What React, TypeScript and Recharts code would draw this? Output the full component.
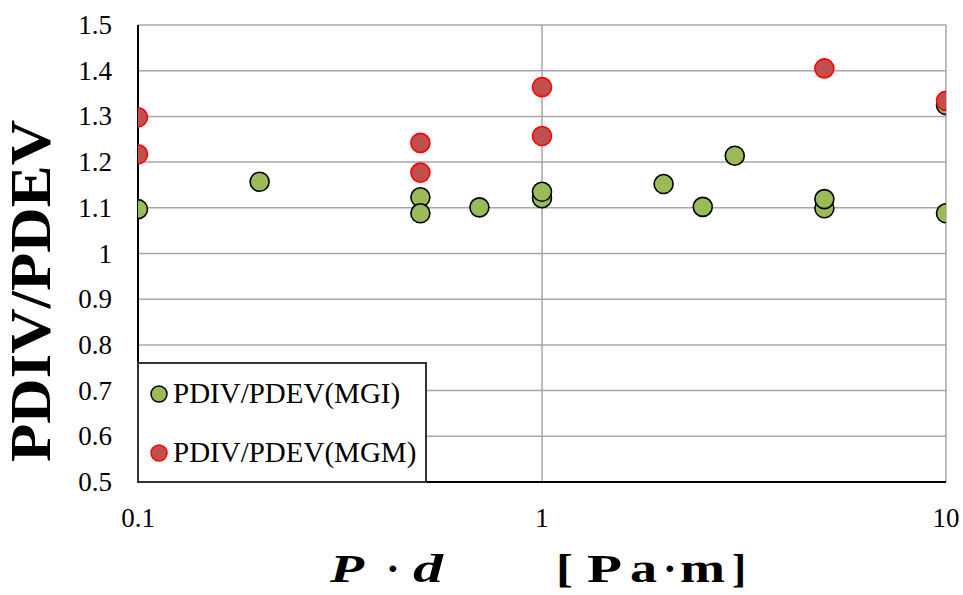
import { ScatterChart, Scatter, XAxis, YAxis, CartesianGrid, Legend } from 'recharts';

// P·d values [Pa·m] and PDIV/PDEV ratios
const mgiPd = [0.1, 0.2, 0.5, 0.5, 0.7, 1, 1, 2, 2.5, 3, 5, 5, 10, 10];
const mgiRatio = [1.097, 1.157, 1.123, 1.088, 1.101, 1.121, 1.135, 1.152, 1.102, 1.214, 1.099, 1.119, 1.088, 1.325];
const mgmPd = [0.1, 0.1, 0.5, 0.5, 1, 1, 5, 10];
const mgmRatio = [1.298, 1.217, 1.242, 1.177, 1.364, 1.257, 1.405, 1.334];

const xTicks = [0.1, 1, 10];
const xMinorTicks = [0.2, 0.3, 0.4, 0.5, 0.6, 0.7, 0.8, 0.9, 2, 3, 4, 5, 6, 7, 8, 9];
const yTicks = [0.5, 0.6, 0.7, 0.8, 0.9, 1, 1.1, 1.2, 1.3, 1.4, 1.5];
const yMinorTicks = Array.from({ length: 51 }, (_, i) => Math.round((0.5 + i * 0.02) * 100) / 100);

const mgiData = mgiPd.map((pd, i) => ({ pd, ratio: mgiRatio[i] }));
const mgmData = mgmPd.map((pd, i) => ({ pd, ratio: mgmRatio[i] }));

const FONT = '"Liberation Serif", "Times New Roman", serif';

const series = [
  { name: 'PDIV/PDEV(MGI)', fill: '#9BBB59', stroke: '#000000' },
  { name: 'PDIV/PDEV(MGM)', fill: '#C0504D', stroke: '#FF0000' },
];

const dot = (fill: string, stroke: string) => (props: any) => (
  <circle cx={props.cx} cy={props.cy} r={9.5} fill={fill} stroke={stroke} strokeWidth={1.6} />
);

const XTick = (props: any) => (
  <text x={props.x} y={props.y + 35} textAnchor="middle" fontFamily={FONT} fontSize={27} fill="#000">
    {String(props.payload.value)}
  </text>
);

const YTick = (props: any) => (
  <text x={props.x} y={props.y + 9} textAnchor="end" fontFamily={FONT} fontSize={27} fill="#000">
    {String(props.payload.value)}
  </text>
);

function LegendBox() {
  return (
    <div
      style={{
        width: 290,
        height: 121,
        boxSizing: 'border-box',
        border: '2px solid #333',
        background: '#fff',
        fontFamily: FONT,
        fontSize: 29,
        color: '#000',
      }}
    >
      {series.map((s) => (
        <div key={s.name} style={{ height: 59, display: 'flex', alignItems: 'center', paddingLeft: 11 }}>
          <svg width={18} height={18} style={{ marginRight: 5 }}>
            <circle cx={9} cy={9} r={8} fill={s.fill} stroke={s.stroke} strokeWidth={1.5} />
          </svg>
          <span>{s.name}</span>
        </div>
      ))}
    </div>
  );
}

const yTitle = () => (
  <text
    x={50}
    y={291}
    transform="rotate(-90, 50, 291)"
    textAnchor="middle"
    fontFamily={FONT}
    fontWeight="bold"
    fontSize={56}
    fill="#000"
    textLength={342}
    lengthAdjust="spacingAndGlyphs"
  >
    PDIV/PDEV
  </text>
);

const xTitle = () => (
  <text y={582} fontFamily={FONT} fontWeight="bold" fontSize={41} fill="#000">
    <tspan x={330} fontStyle="italic" textLength={34} lengthAdjust="spacingAndGlyphs">P</tspan>
    <tspan x={386}>·</tspan>
    <tspan x={413} fontStyle="italic" textLength={30} lengthAdjust="spacingAndGlyphs">d</tspan>
    <tspan x={556} textLength={17} lengthAdjust="spacingAndGlyphs">[</tspan>
    <tspan x={587} textLength={35} lengthAdjust="spacingAndGlyphs">P</tspan>
    <tspan x={630} textLength={27} lengthAdjust="spacingAndGlyphs">a</tspan>
    <tspan x={663}>·</tspan>
    <tspan x={680} textLength={45} lengthAdjust="spacingAndGlyphs">m</tspan>
    <tspan x={732} textLength={14} lengthAdjust="spacingAndGlyphs">]</tspan>
  </text>
);

export default function App() {
  return (
    <div style={{ position: 'absolute', left: 0, top: 0, background: '#fff', fontFamily: FONT }}>
      <ScatterChart width={963} height={595} margin={{ top: 25, right: 17, left: 0, bottom: 0 }}>
        <CartesianGrid stroke="#a6a6a6" strokeWidth={1.5} />
        <XAxis
          type="number"
          dataKey="pd"
          scale="log"
          domain={[0.1, 10]}
          ticks={xTicks}
          allowDataOverflow
          height={113}
          tickLine={false}
          tickSize={6}
          tickMargin={4}
          axisLine={{ stroke: '#000', strokeWidth: 2 }}
          tick={XTick}
          label={{ content: xTitle }}
        />
        <XAxis
          xAxisId="minor"
          type="number"
          scale="log"
          domain={[0.1, 10]}
          ticks={xMinorTicks}
          allowDataOverflow
          mirror
          height={0}
          axisLine={false}
          tickSize={7}
          tickLine={{ stroke: '#000', strokeWidth: 1.5 }}
          tick={() => <g />}
        />
        <YAxis
          type="number"
          dataKey="ratio"
          domain={[0.5, 1.5]}
          ticks={yTicks}
          allowDataOverflow
          width={138}
          tickLine={false}
          tickSize={6}
          tickMargin={20}
          axisLine={{ stroke: '#000', strokeWidth: 2 }}
          tick={YTick}
          label={{ content: yTitle }}
        />
        <YAxis
          yAxisId="minor"
          type="number"
          domain={[0.5, 1.5]}
          ticks={yMinorTicks}
          allowDataOverflow
          mirror
          width={0}
          axisLine={false}
          tickSize={8}
          tickLine={{ stroke: '#000', strokeWidth: 1.5 }}
          tick={() => <g />}
        />
        <Legend
          layout="horizontal"
          verticalAlign="middle"
          align="center"
          content={() => <LegendBox />}
          wrapperStyle={{ left: 137, top: 362, width: 290, height: 121 }}
        />
        <Scatter
          name={series[0].name}
          data={mgiData}
          shape={dot(series[0].fill, series[0].stroke)}
          isAnimationActive={false}
        />
        <Scatter
          name={series[1].name}
          data={mgmData}
          shape={dot(series[1].fill, series[1].stroke)}
          isAnimationActive={false}
        />
      </ScatterChart>
    </div>
  );
}
